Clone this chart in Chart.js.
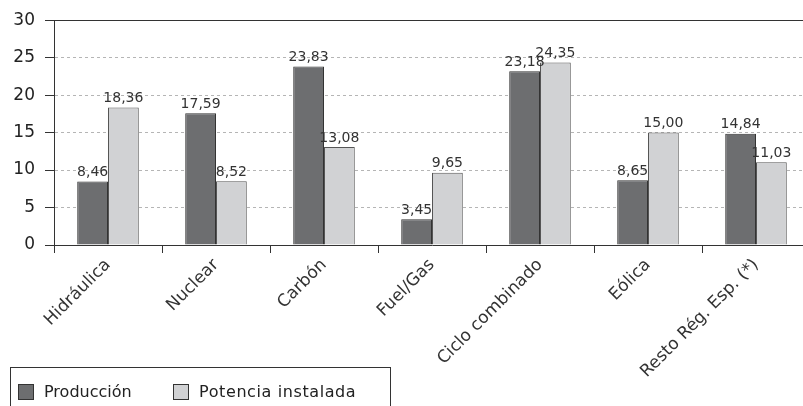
<!DOCTYPE html>
<html>
<head>
<meta charset="utf-8">
<script src="https://cdn.jsdelivr.net/npm/chart.js@4/dist/chart.umd.min.js"></script>
<style>
  html, body { margin: 0; padding: 0; background: #fff; overflow: hidden; }
  #wrap { position: relative; width: 810px; height: 406px; }
  #legend {
    position: absolute; left: 10px; top: 367px; width: 381px; height: 60px;
    border: 1px solid #333; box-sizing: border-box;
    font-family: "DejaVu Sans", sans-serif; font-size: 16px; color: #222;
  }
  .item { position: absolute; top: 14px; display: flex; align-items: center; }
  .sw { width: 14px; height: 14px; border: 1px solid #333; margin-right: 10px; }
</style>
</head>
<body>
<div id="wrap">
  <canvas id="c" width="810" height="406"></canvas>
  <div id="legend">
    <div class="item" style="left:7px"><span class="sw" style="background:#6d6e70"></span>Producción</div>
    <div class="item" style="left:162px; letter-spacing:0.6px"><span class="sw" style="background:#d1d2d4"></span>Potencia instalada</div>
  </div>
</div>
<script>
const categories = ["Hidráulica", "Nuclear", "Carbón", "Fuel/Gas", "Ciclo combinado", "Eólica", "Resto Rég. Esp. (*)"];
const produccion = [8.46, 17.59, 23.83, 3.45, 23.18, 8.65, 14.84];
const potencia = [18.36, 8.52, 13.08, 9.65, 24.35, 15.00, 11.03];
const seriesNames = ["Producción", "Potencia instalada"];
const yTicks = [0, 5, 10, 15, 20, 25, 30];

const FONT = "DejaVu Sans";

// value labels above each bar, Spanish decimal comma
const valueLabels = {
  id: "valueLabels",
  afterDatasetsDraw(chart) {
    const ctx = chart.ctx;
    ctx.save();
    ctx.font = "14px '" + FONT + "'";
    ctx.fillStyle = "#333";
    ctx.textAlign = "center";
    ctx.textBaseline = "bottom";
    chart.data.datasets.forEach((ds, i) => {
      chart.getDatasetMeta(i).data.forEach((bar, j) => {
        ctx.fillText(ds.data[j].toFixed(2).replace(".", ","), bar.x, bar.y - 2);
      });
    });
    ctx.restore();
  }
};

// solid frame line along the top of the value axis
const topLine = {
  id: "topLine",
  afterDraw(chart) {
    const y = chart.scales.y.getPixelForValue(30);
    const ctx = chart.ctx;
    ctx.save();
    ctx.strokeStyle = "#333";
    ctx.lineWidth = 1;
    ctx.beginPath();
    ctx.moveTo(chart.chartArea.left, Math.round(y) + 0.5);
    ctx.lineTo(chart.chartArea.right, Math.round(y) + 0.5);
    ctx.stroke();
    ctx.restore();
  }
};

new Chart(document.getElementById("c"), {
  type: "bar",
  data: {
    labels: categories,
    datasets: [
      { label: seriesNames[0], data: produccion, backgroundColor: "#6d6e70", borderColor: "#333", borderWidth: 1 },
      { label: seriesNames[1], data: potencia, backgroundColor: "#d1d2d4", borderColor: "#555", borderWidth: 1 }
    ]
  },
  options: {
    responsive: false,
    animation: false,
    layout: { padding: { top: 19, right: 0, left: 0, bottom: 0 } },
    plugins: { legend: { display: false }, tooltip: { enabled: false } },
    datasets: { bar: { categoryPercentage: 0.57, barPercentage: 1.0 } },
    scales: {
      x: {
        grid: { offset: true, drawOnChartArea: false, color: "#333", tickLength: 8 },
        border: { color: "#333" },
        ticks: { maxRotation: 45, minRotation: 45, color: "#333", font: { family: FONT, size: 17 }, padding: 2 },
        afterFit(scale) { scale.height = 161; }
      },
      y: {
        min: 0, max: 30,
        afterBuildTicks(scale) { scale.ticks = yTicks.map(v => ({ value: v })); },
        grid: { color: "#b5b5b5", tickLength: 9, tickColor: "#333" },
        border: { color: "#333", dash: [3, 3] },
        ticks: { color: "#222", font: { family: FONT, size: 17 }, padding: 10 },
        afterFit(scale) { scale.width = 54; }
      }
    }
  },
  plugins: [valueLabels, topLine]
});
</script>
</body>
</html>
